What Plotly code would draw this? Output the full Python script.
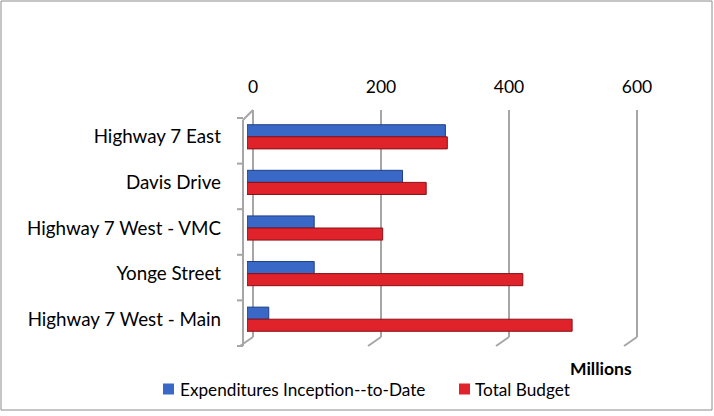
import plotly.graph_objects as go

categories = ["Highway 7 East", "Davis Drive", "Highway 7 West - VMC", "Yonge Street", "Highway 7 West - Main"]
expenditures = [310, 243, 105, 105, 34]
total_budget = [313, 280, 212, 431, 508]
x_ticks = [0, 200, 400, 600]
series_names = ["Expenditures Inception--to-Date", "Total Budget"]
series_colors = ["#3a68c6", "#e0222a"]
series_edges = ["#1f3f86", "#8a1017"]

L, R, T, B = 247, 83, 114, 74
W, H = 714, 416
PW = W - L - R
PH = H - T - B
XMAX = 600

def px(x):
    return (x - L) / PW

def py(y):
    return (H - B - y) / PH

def vx(v):
    # pixel position of a value on the x axis
    return L + v / XMAX * PW

font = "Lato"
fig = go.Figure()
for name, vals, col, edge in zip(series_names, [expenditures, total_budget], series_colors, series_edges):
    fig.add_trace(go.Bar(
        y=categories, x=vals, orientation="h", name=name,
        marker=dict(color=col, line=dict(color=edge, width=1)),
    ))

shapes = []
grid_col = "#a6a6a6"
top_back, bot_back, bot_front = 110, 337, 346
for v in x_ticks:
    xb = vx(v) + 6
    shapes.append(dict(type="line", xref="paper", yref="paper",
                       x0=px(xb), x1=px(xb), y0=py(bot_back), y1=py(top_back),
                       line=dict(color=grid_col, width=2), layer="below"))
    shapes.append(dict(type="line", xref="paper", yref="paper",
                       x0=px(xb), x1=px(xb - 13), y0=py(bot_back), y1=py(bot_front),
                       line=dict(color=grid_col, width=2), layer="below"))
x_left = vx(0) - 4
shapes.append(dict(type="line", xref="paper", yref="paper",
                   x0=px(x_left), x1=px(x_left), y0=py(120), y1=py(bot_front),
                   line=dict(color=grid_col, width=2), layer="below"))
shapes.append(dict(type="line", xref="paper", yref="paper",
                   x0=px(x_left), x1=px(vx(0) + 6), y0=py(120), y1=py(top_back),
                   line=dict(color=grid_col, width=2), layer="below"))
n = len(categories)
for k in range(n + 1):
    yk = T + 4 + k * PH / n
    shapes.append(dict(type="line", xref="paper", yref="paper",
                       x0=px(x_left - 6), x1=px(x_left), y0=py(yk), y1=py(yk),
                       line=dict(color=grid_col, width=2), layer="below"))
# outer chart border
shapes.append(dict(type="rect", xref="paper", yref="paper",
                   x0=px(1), x1=px(712), y0=py(410), y1=py(1),
                   line=dict(color="#8c8c8c", width=1), layer="below"))

# manual legend (swatch + text)
annotations = []
leg_y = 389
leg_items = [(163, 178), (459, 473)]
for (sx, tx), name, col in zip(leg_items, series_names, series_colors):
    shapes.append(dict(type="rect", xref="paper", yref="paper",
                       x0=px(sx), x1=px(sx + 11), y0=py(leg_y + 5.5), y1=py(leg_y - 5.5),
                       fillcolor=col, line=dict(width=0)))
    annotations.append(dict(text=name, xref="paper", yref="paper", x=px(tx), y=py(leg_y),
                            xanchor="left", yanchor="middle", showarrow=False,
                            font=dict(size=17.2, family=font, color="#000000")))
annotations.append(dict(text="<b>Millions</b>", xref="paper", yref="paper", x=px(601), y=py(368),
                        xanchor="center", yanchor="middle", showarrow=False,
                        font=dict(size=17.5, family=font, color="#000000")))

fig.update_layout(
    width=W, height=H, margin=dict(l=L, r=R, t=T, b=B, autoexpand=False),
    paper_bgcolor="white", plot_bgcolor="rgba(0,0,0,0)",
    barmode="group", bargap=0.47, bargroupgap=0.0,
    font=dict(family=font, size=17, color="#000000"),
    showlegend=False,
    shapes=shapes,
    annotations=annotations,
    xaxis=dict(side="top", range=[0, XMAX], tickvals=x_ticks, showgrid=False, zeroline=False,
               showline=False, ticks="", ticklabelshift=6, ticklabelstandoff=17, automargin=False,
               tickfont=dict(size=17.5, family=font)),
    yaxis=dict(autorange="reversed", showgrid=False, showline=False, ticks="", automargin=False,
               ticklabelstandoff=25, tickfont=dict(size=18.8, family=font)),
)

fig.write_html("out.html", config={"displayModeBar": False},
               post_script="document.body.style.margin='0';")
